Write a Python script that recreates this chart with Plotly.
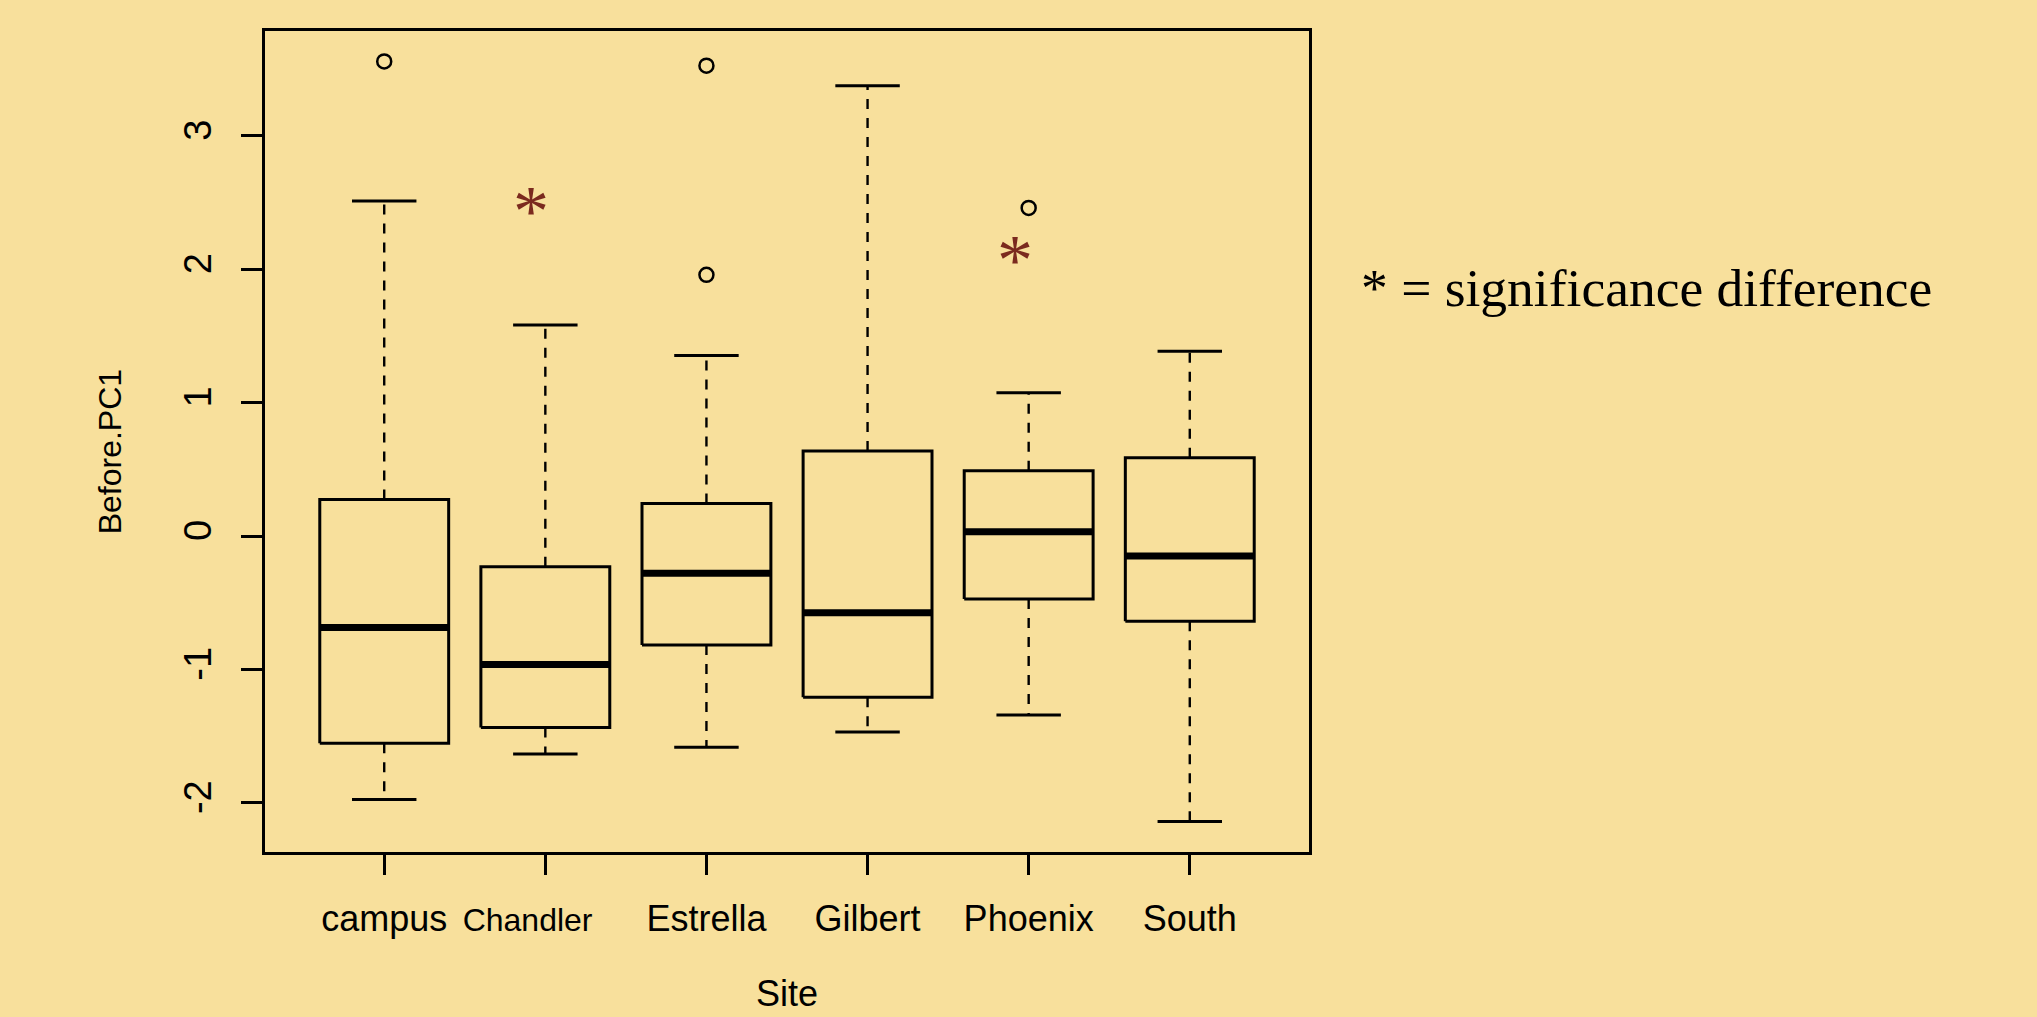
import plotly.graph_objects as go

# ---- data ----
sites = ["campus", "Chandler", "Estrella", "Gilbert", "Phoenix", "South"]
q1 = [-1.553, -1.435, -0.816, -1.208, -0.472, -0.639]
medians = [-0.686, -0.963, -0.279, -0.574, 0.033, -0.150]
q3 = [0.275, -0.229, 0.245, 0.637, 0.490, 0.587]
lower_whisker = [-1.975, -1.633, -1.583, -1.468, -1.341, -2.140]
upper_whisker = [2.512, 1.583, 1.354, 3.376, 1.074, 1.386]
outlier_sites = ["campus", "Estrella", "Estrella", "Phoenix"]
outlier_values = [3.558, 3.526, 1.958, 2.460]
star_sites = ["Chandler", "Phoenix"]
star_values = [2.50, 2.13]
y_ticks = [-2, -1, 0, 1, 2, 3]
x_title = "Site"
y_title = "Before.PC1"
note_text = "* = significance difference"

# ---- style ----
BG = "#F8E09C"
STAR = "#7B2A1E"
BOX_HALF = 0.4
CAP_HALF = 0.2
FONT = "Liberation Sans, Arial, sans-serif"

pos = {s: i + 1 for i, s in enumerate(sites)}

bx, by, mx, my, wx, wy, cx, cy = [], [], [], [], [], [], [], []
for s, a, m, b, lo, hi in zip(sites, q1, medians, q3, lower_whisker, upper_whisker):
    p = pos[s]
    bx += [p - BOX_HALF, p + BOX_HALF, p + BOX_HALF, p - BOX_HALF, p - BOX_HALF, None]
    by += [a, a, b, b, a, None]
    mx += [p - BOX_HALF, p + BOX_HALF, None]
    my += [m, m, None]
    wx += [p, p, None, p, p, None]
    wy += [b, hi, None, a, lo, None]
    cx += [p - CAP_HALF, p + CAP_HALF, None, p - CAP_HALF, p + CAP_HALF, None]
    cy += [hi, hi, None, lo, lo, None]

fig = go.Figure()
fig.add_trace(go.Scatter(x=wx, y=wy, mode="lines", line=dict(color="black", width=2.4, dash="10px,9px"),
                         hoverinfo="skip", showlegend=False))
fig.add_trace(go.Scatter(x=cx, y=cy, mode="lines", line=dict(color="black", width=3),
                         hoverinfo="skip", showlegend=False))
fig.add_trace(go.Scatter(x=bx, y=by, mode="lines", line=dict(color="black", width=3),
                         hoverinfo="skip", showlegend=False))
fig.add_trace(go.Scatter(x=mx, y=my, mode="lines", line=dict(color="black", width=7),
                         hoverinfo="skip", showlegend=False))
fig.add_trace(go.Scatter(x=[pos[s] for s in outlier_sites], y=outlier_values, mode="markers",
                         marker=dict(symbol="circle-open", size=14, color="black", line=dict(width=2.5)),
                         showlegend=False))

for s, v in zip(star_sites, star_values):
    fig.add_annotation(x=pos[s] - 0.086, y=v, xref="x", yref="y", text="*", showarrow=False,
                       font=dict(family="Liberation Serif, Times New Roman, serif", size=72, color=STAR),
                       xanchor="center", yanchor="middle", yshift=-8)

fig.add_annotation(x=1.0475, y=0.687, xref="paper", yref="paper", text=note_text, showarrow=False,
                   xanchor="left", yanchor="middle",
                   font=dict(family="Liberation Serif, Times New Roman, serif", size=53.5, color="black"))

# axis titles
fig.add_annotation(x=-0.1485, y=0.488, xref="paper", yref="paper", text=y_title, showarrow=False,
                   textangle=-90, xanchor="center", yanchor="middle", font=dict(size=32))
fig.add_annotation(x=0.5, y=-0.172, xref="paper", yref="paper", text=x_title, showarrow=False,
                   xanchor="center", yanchor="middle", font=dict(size=36))

lo_all = min(lower_whisker + outlier_values)
hi_all = max(upper_whisker + outlier_values)
pad = 0.04 * (hi_all - lo_all)

ticktext = [f"<span style='font-size:32px'>{s}\u00a0\u00a0\u00a0\u00a0</span>" if s == "Chandler" else s
            for s in sites]

fig.update_layout(
    width=2037, height=1017,
    margin=dict(l=265, r=728, t=31, b=165, autoexpand=False),
    paper_bgcolor=BG, plot_bgcolor=BG,
    font=dict(family=FONT, size=36, color="black"),
    xaxis=dict(
        range=[0.5 - 0.04 * len(sites), len(sites) + 0.5 + 0.04 * len(sites)],
        tickvals=[pos[s] for s in sites], ticktext=ticktext, automargin=False,
        showgrid=False, zeroline=False, showline=True, mirror=True, linecolor="black", linewidth=2.5,
        ticks="outside", ticklen=20, tickwidth=2.5, tickcolor="black", ticklabelstandoff=13,
    ),
    yaxis=dict(
        range=[lo_all - pad, hi_all + pad],
        tickvals=y_ticks, ticktext=[str(t) for t in y_ticks], tickangle=-90, automargin=False,
        showgrid=False, zeroline=False, showline=True, mirror=True, linecolor="black", linewidth=2.5,
        ticks="outside", ticklen=21, tickwidth=2.5, tickcolor="black", ticklabelstandoff=15,
        tickfont=dict(size=38),
    ),
)

fig.write_html(
    "out.html",
    config={"displayModeBar": False},
    post_script="document.body.style.margin='0';document.body.style.padding='0';"
                "document.body.style.background='" + BG + "';"
                "document.documentElement.style.overflow='hidden';",
)
